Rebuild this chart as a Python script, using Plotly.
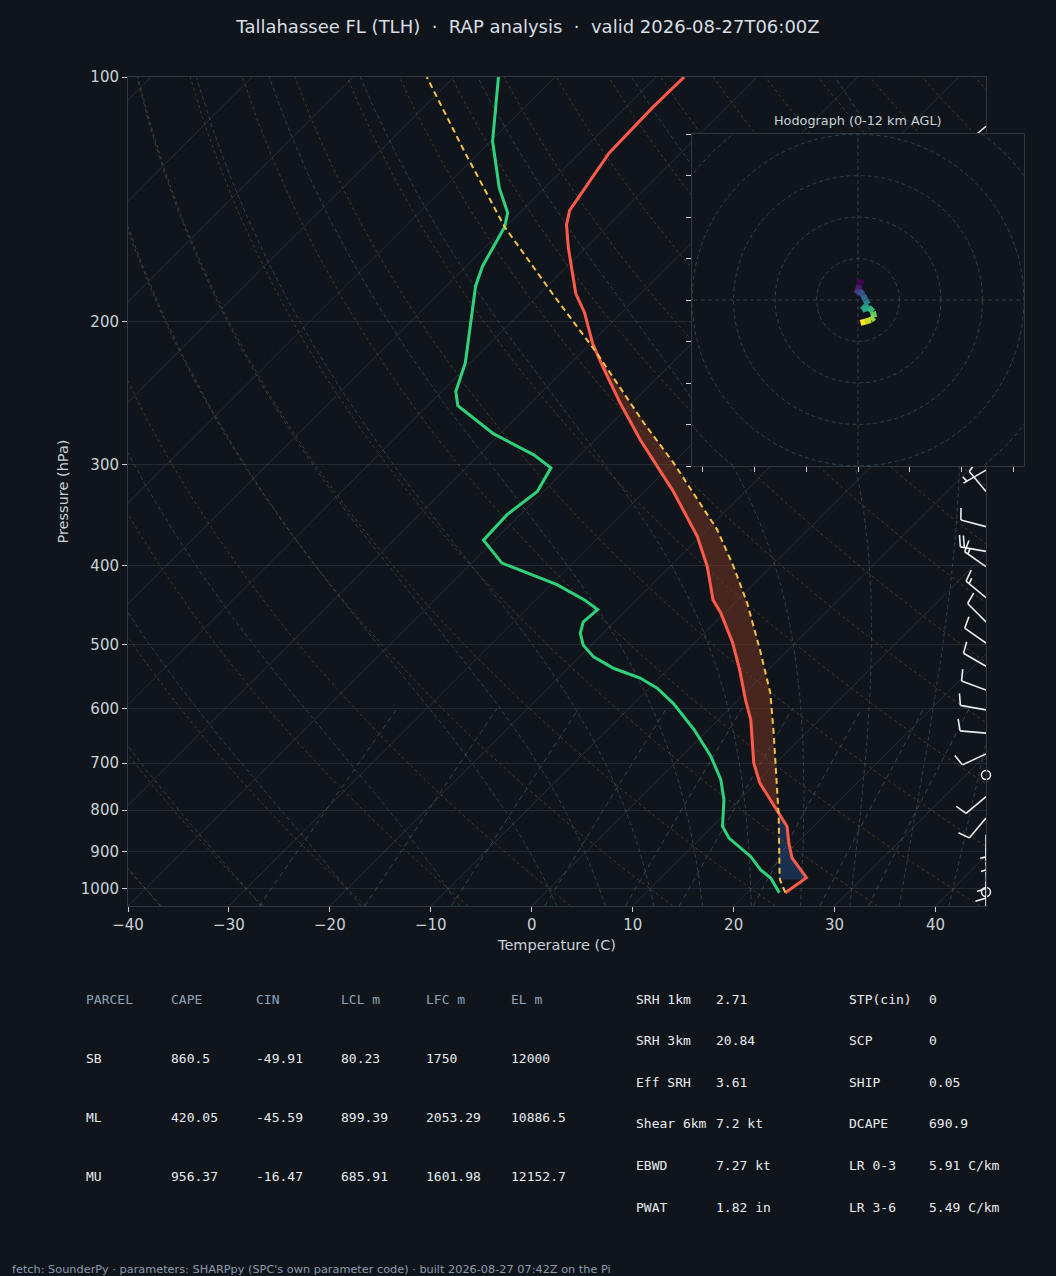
import numpy as np
import plotly.graph_objects as go
from plotly.colors import sample_colorscale

W, H = 1056, 1276
BG = "#10151b"
FRAME = "#2d3845"
TXT = "#c9d1d9"

title_text = "Tallahassee FL (TLH)  ·  RAP analysis  ·  valid 2026-08-27T06:00Z"
footer_text = ("fetch: SounderPy · parameters: SHARPpy (SPC's own parameter code) · "
               "built 2026-08-27 07:42Z on the Pi")

# environmental temperature (hPa, C)
t_pres = [1011, 969, 916, 878, 838, 806, 741, 700, 619, 585, 538, 498, 457, 441,
          401, 368, 323, 305, 280, 252, 227, 213, 195, 185, 162, 152, 146, 124, 109, 100]
t_temp = [23.8, 24.4, 21.0, 19.2, 17.4, 15.2, 10.4, 7.8, 3.2, 0.7, -2.8, -6.2, -10.4, -12.4,
          -16.3, -20.3, -27.3, -30.6, -35.5, -41.2, -46.6, -49.8, -53.7, -56.4, -61.8, -64.2,
          -65.3, -67.1, -67.3, -67.2]

# dewpoint (hPa, C)
td_pres = [1011, 970, 948, 913, 866, 838, 777, 734, 687, 637, 591, 566, 550, 535, 518,
           501, 484, 469, 453, 441, 422, 397, 372, 346, 324, 303, 292, 275, 254, 244,
           225, 181, 171, 153, 147, 137, 120, 100]
td_dwpt = [23.2, 20.9, 19.1, 16.8, 12.8, 11.0, 8.5, 6.2, 2.9, -1.4, -6.1, -9.2, -11.9, -15.5,
           -18.6, -20.8, -22.3, -23.1, -22.9, -25.1, -29.4, -37.0, -41.1, -41.3, -40.6, -41.6,
           -44.6, -50.7, -57.0, -58.6, -60.5, -67.1, -68.4, -70.1, -71.2, -74.5, -79.8, -85.6]

# surface based parcel (hPa, C)
parcel_pres = [1011, 975, 957, 815, 643, 574, 508, 444, 401, 361, 326, 299, 267, 237, 219,
               185, 153, 123, 100]
parcel_temp = [23.8, 22.0, 21.3, 15.6, 6.8, 2.5, -2.8, -8.8, -13.7, -19.0, -24.9, -29.9,
               -36.8, -43.8, -48.4, -58.7, -70.1, -81.8, -92.7]
lfc_p, cin_base_p = 807, 975

# winds (hPa, deg, kt)
wind_pres = [115, 130, 150, 175, 200, 230, 260, 285, 305, 324, 358, 384, 401, 438, 469, 498,
             532, 569, 602, 643, 682, 724, 770, 818, 858, 890, 926, 953, 980, 1009]
wind_dir = [230, 240, 250, 260, 270, 275, 270, 260, 240, 320, 285, 280, 305, 310, 315, 305,
            300, 290, 280, 275, 245, 0, 230, 220, 180, 178, 175, 178, 180, 0]
wind_kt = [10, 15, 20, 20, 15, 15, 10, 10, 5, 10, 10, 20, 15, 15, 10, 10,
           10, 10, 10, 10, 10, 0, 10, 10, 5, 5, 10, 10, 10, 0]

# hodograph (kt), surface first
hodo_u = [0.8, 0.4, -0.4, 0.4, 1.2, 1.8, 2.4, 1.0, 2.6, 3.6, 3.9, 3.1, 1.8, 0.6]
hodo_v = [5.0, 3.6, 1.5, 2.3, 1.2, 0.0, -1.0, -2.4, -1.8, -2.8, -4.2, -4.8, -5.2, -5.5]
hodo_rings = [10, 20, 30, 40, 50, 60]

# tables
parcel_cols = ["PARCEL", "CAPE", "CIN", "LCL m", "LFC m", "EL m"]
parcel_rows = [["SB", "860.5", "-49.91", "80.23", "1750", "12000"],
               ["ML", "420.05", "-45.59", "899.39", "2053.29", "10886.5"],
               ["MU", "956.37", "-16.47", "685.91", "1601.98", "12152.7"]]
param_rows = [["SRH 1km", "2.71", "STP(cin)", "0"],
              ["SRH 3km", "20.84", "SCP", "0"],
              ["Eff SRH", "3.61", "SHIP", "0.05"],
              ["Shear 6km", "7.2 kt", "DCAPE", "690.9"],
              ["EBWD", "7.27 kt", "LR 0-3", "5.91 C/km"],
              ["PWAT", "1.82 in", "LR 3-6", "5.49 C/km"]]

isobars = [100, 200, 300, 400, 500, 600, 700, 800, 900, 1000]
temp_ticks = [-40, -30, -20, -10, 0, 10, 20, 30, 40]

P_BOT, P_TOP = 1050.0, 100.0
SKEW = 35.0
X_RANGE = [-40, 45]
main_x = [128 / W, 986 / W]
main_y = [1 - 906 / H, 1 - 77 / H]
hodo_x = [692 / W, 1024 / W]
hodo_y = [1 - 466 / H, 1 - 134 / H]

px_per_c = (main_x[1] - main_x[0]) * W / (X_RANGE[1] - X_RANGE[0])
px_per_dec = (main_y[1] - main_y[0]) * H / (np.log10(P_BOT) - np.log10(P_TOP))


def skew_x(t, p):
    return np.asarray(t, float) + SKEW * np.log(P_BOT / np.asarray(p, float))


def joined(lines):
    xs, ys = [], []
    for x, y in lines:
        xs += list(x) + [None]
        ys += list(y) + [None]
    return xs, ys


def moist_adiabat(t0c, p_grid):
    Rd, Cp, Lv, eps = 287.04, 1005.7, 2.501e6, 0.622

    def f(t, lnp):
        p = np.exp(lnp)
        es = 6.112 * np.exp(17.67 * (t - 273.15) / (t - 29.65))
        rs = eps * es / (p - es)
        return (Rd * t + Lv * rs) / (Cp + Lv * Lv * rs * eps / (Rd * t * t))

    def rk(t, a, b):
        h = b - a
        k1 = f(t, a)
        k2 = f(t + h * k1 / 2, a + h / 2)
        k3 = f(t + h * k2 / 2, a + h / 2)
        k4 = f(t + h * k3, b)
        return t + h * (k1 + 2 * k2 + 2 * k3 + k4) / 6

    t = t0c + 273.15
    lnps = np.linspace(np.log(1000.0), np.log(p_grid[0]), 6)
    for a, b in zip(lnps[:-1], lnps[1:]):
        t = rk(t, a, b)
    out = [t]
    lg = np.log(p_grid)
    for a, b in zip(lg[:-1], lg[1:]):
        t = rk(t, a, b)
        out.append(t)
    return np.array(out) - 273.15


p_grid = np.logspace(np.log10(P_BOT), np.log10(P_TOP), 150)

fig = go.Figure()

# isotherms
iso = [(skew_x([t, t], [P_BOT, P_TOP]), [P_BOT, P_TOP]) for t in range(-130, 50, 10)]
xs, ys = joined(iso)
fig.add_trace(go.Scatter(x=xs, y=ys, mode="lines", hoverinfo="skip",
                         line=dict(color="rgba(120,135,150,0.22)", width=1)))

# dry adiabats
dry = []
for th in range(-50, 201, 10):
    t = (th + 273.15) * (p_grid / 1000.0) ** 0.2857 - 273.15
    dry.append((skew_x(t, p_grid), p_grid))
xs, ys = joined(dry)
fig.add_trace(go.Scatter(x=xs, y=ys, mode="lines", hoverinfo="skip",
                         line=dict(color="rgba(150,110,60,0.42)", width=1, dash="3px,3px")))

# moist adiabats
moist = []
for t0 in [-50, -40, -30, -20, -10, 0, 5, 10, 15, 20, 25, 30, 35, 40]:
    moist.append((skew_x(moist_adiabat(t0, p_grid), p_grid), p_grid))
xs, ys = joined(moist)
fig.add_trace(go.Scatter(x=xs, y=ys, mode="lines", hoverinfo="skip",
                         line=dict(color="rgba(85,115,135,0.45)", width=1, dash="4px,3px")))

# mixing ratio lines
pm = np.logspace(np.log10(P_BOT), np.log10(600), 30)
mix = []
for w in [0.0004, 0.001, 0.002, 0.004, 0.007, 0.01, 0.016, 0.024, 0.032]:
    e = pm * w / (0.622 + w)
    lg = np.log(e / 6.112)
    mix.append((skew_x(243.5 * lg / (17.67 - lg), pm), pm))
xs, ys = joined(mix)
fig.add_trace(go.Scatter(x=xs, y=ys, mode="lines", hoverinfo="skip",
                         line=dict(color="rgba(85,115,140,0.5)", width=1, dash="5px,4px")))

# CAPE / CIN shading
fp = np.logspace(np.log10(t_pres[0]), np.log10(P_TOP), 500)
key = -np.log(fp)
xt = skew_x(np.interp(key, -np.log(t_pres), t_temp), fp)
xp = skew_x(np.interp(key, -np.log(parcel_pres), parcel_temp), fp)
m = (xp > xt) & (fp < lfc_p + 5)
fig.add_trace(go.Scatter(x=np.concatenate([xp[m], xt[m][::-1]]),
                         y=np.concatenate([fp[m], fp[m][::-1]]),
                         fill="toself", fillcolor="rgba(140,60,40,0.45)",
                         mode="lines", line=dict(width=0), hoverinfo="skip"))
m = (xp <= xt) & (fp <= cin_base_p) & (fp > 500)
fig.add_trace(go.Scatter(x=np.concatenate([xp[m], xt[m][::-1]]),
                         y=np.concatenate([fp[m], fp[m][::-1]]),
                         fill="toself", fillcolor="rgba(40,80,140,0.45)",
                         mode="lines", line=dict(width=0), hoverinfo="skip"))

# profiles
fig.add_trace(go.Scatter(x=skew_x(t_temp, t_pres), y=t_pres, mode="lines", name="T",
                         line=dict(color="#ff5a4a", width=3)))
fig.add_trace(go.Scatter(x=skew_x(td_dwpt, td_pres), y=td_pres, mode="lines", name="Td",
                         line=dict(color="#2fd27a", width=3)))
fig.add_trace(go.Scatter(x=skew_x(parcel_temp, parcel_pres), y=parcel_pres, mode="lines",
                         name="parcel", line=dict(color="#f2c14a", width=2, dash="6px,4px")))

# wind barbs, drawn in pixel units from the right edge
L, FL, GAP = 26.0, 12.0, 4.0


def to_data(pb, dx, dy):
    return X_RANGE[1] + dx / px_per_c, pb * 10 ** (-dy / px_per_dec)


barb_x, barb_y, calm_x, calm_y = [], [], [], []
for pb, d, s in zip(wind_pres, wind_dir, wind_kt):
    if s < 2.5:
        calm_x.append(X_RANGE[1])
        calm_y.append(pb)
        continue
    r = np.radians(d)
    sx, sy = np.sin(r), np.cos(r)
    fx, fy = sy, -sx
    tx, ty = to_data(pb, L * sx, L * sy)
    barb_x += [X_RANGE[1], tx, None]
    barb_y += [pb, ty, None]
    full, half = int(s // 10), int((s % 10) >= 5)
    pos = L
    if full == 0:
        pos = L - GAP
    for k in range(full + half):
        ln = FL if k < full else FL / 2
        ax, ay = pos * sx, pos * sy
        ex, ey = ax + ln * (fx * 0.97 + sx * 0.25), ay + ln * (fy * 0.97 + sy * 0.25)
        p1 = to_data(pb, ax, ay)
        p2 = to_data(pb, ex, ey)
        barb_x += [p1[0], p2[0], None]
        barb_y += [p1[1], p2[1], None]
        pos -= GAP
fig.add_trace(go.Scatter(x=barb_x, y=barb_y, mode="lines", hoverinfo="skip",
                         line=dict(color="#e8edf2", width=1.6)))
fig.add_trace(go.Scatter(x=calm_x, y=calm_y, mode="markers", cliponaxis=False,
                         hoverinfo="skip",
                         marker=dict(symbol="circle-open", size=9, color="#e8edf2",
                                     line=dict(width=1.5, color="#e8edf2"))))

# hodograph inset
ang = np.linspace(0, 2 * np.pi, 181)
rings = [(r * np.cos(ang), r * np.sin(ang)) for r in hodo_rings]
rings += [([-80, 80], [0, 0]), ([0, 0], [-80, 80])]
xs, ys = joined(rings)
fig.add_trace(go.Scatter(x=xs, y=ys, xaxis="x2", yaxis="y2", mode="lines",
                         hoverinfo="skip",
                         line=dict(color="#33404e", width=1, dash="4px,3px")))
cols = sample_colorscale("Viridis", list(np.linspace(0, 1, len(hodo_u) - 1)))
for i in range(len(hodo_u) - 1):
    fig.add_trace(go.Scatter(x=hodo_u[i:i + 2], y=hodo_v[i:i + 2], xaxis="x2", yaxis="y2",
                             mode="lines", hoverinfo="skip",
                             line=dict(color=cols[i], width=6)))

axis_common = dict(showline=True, linecolor=FRAME, linewidth=1, mirror=True,
                   ticks="outside", ticklen=5, tickcolor=TXT, zeroline=False,
                   automargin=False)

fig.update_layout(
    width=W, height=H,
    margin=dict(l=0, r=0, t=0, b=0, pad=0),
    paper_bgcolor=BG, plot_bgcolor=BG,
    showlegend=False,
    font=dict(family="DejaVu Sans", color=TXT, size=15),
    title=dict(text=title_text, x=0.5, xanchor="center", y=1 - 27 / H, yanchor="middle",
               yref="container", font=dict(size=18, color="#d8dee4")),
    xaxis=dict(domain=main_x, range=X_RANGE, showgrid=False, tickvals=temp_ticks,
               title=dict(text="Temperature (C)", font=dict(size=14.5), standoff=6),
               **axis_common),
    yaxis=dict(domain=main_y, type="log", range=[np.log10(P_BOT), np.log10(P_TOP)],
               tickvals=isobars, ticktext=[str(v) for v in isobars],
               showgrid=True, gridcolor="#222b35", gridwidth=1,
               title=dict(text="Pressure (hPa)", font=dict(size=14.5), standoff=8),
               **axis_common),
    xaxis2=dict(domain=hodo_x, range=[-40, 40], anchor="y2", showgrid=False,
                tickvals=[-37.5, -25, -12.5, 0, 12.5, 25, 37.5], showticklabels=False,
                **axis_common),
    yaxis2=dict(domain=hodo_y, range=[-40, 40], anchor="x2", showgrid=False,
                tickvals=[-40, -30, -20, -10, 0, 10, 20, 30, 40], showticklabels=False,
                **axis_common),
)

ann = [dict(text="Hodograph (0-12 km AGL)", x=858 / W, y=1 - 120 / H, xref="paper",
            yref="paper", xanchor="center", yanchor="middle", showarrow=False,
            font=dict(size=12.8, color=TXT))]

mono = "DejaVu Sans Mono"
for j, name in enumerate(parcel_cols):
    ann.append(dict(text=name, x=(84 + 85 * j) / W, y=1 - 999 / H, xref="paper", yref="paper",
                    xanchor="left", yanchor="middle", showarrow=False,
                    font=dict(family=mono, size=13, color="#8ea3b8")))
for i, row in enumerate(parcel_rows):
    for j, val in enumerate(row):
        ann.append(dict(text=val, x=(84 + 85 * j) / W, y=1 - (1058 + 59 * i) / H,
                        xref="paper", yref="paper", xanchor="left", yanchor="middle",
                        showarrow=False, font=dict(family=mono, size=13, color="#e6ebef")))
param_x = [634, 714, 847, 927]
for i, row in enumerate(param_rows):
    for j, val in enumerate(row):
        ann.append(dict(text=val, x=param_x[j] / W, y=1 - (999 + 41.6 * i) / H,
                        xref="paper", yref="paper", xanchor="left", yanchor="middle",
                        showarrow=False, font=dict(family=mono, size=13, color="#e6ebef")))
ann.append(dict(text=footer_text, x=10 / W, y=1 - 1269 / H, xref="paper", yref="paper",
                xanchor="left", yanchor="middle", showarrow=False,
                font=dict(size=11.3, color="#8b9bb0")))
fig.update_layout(annotations=ann)

# let the figure fill the window with no white page border
page_js = ("document.body.style.margin='0';"
           "document.body.style.background='%s';"
           "document.documentElement.style.background='%s';" % (BG, BG))
fig.write_html("out.html", post_script=page_js, config={"displayModeBar": False})
